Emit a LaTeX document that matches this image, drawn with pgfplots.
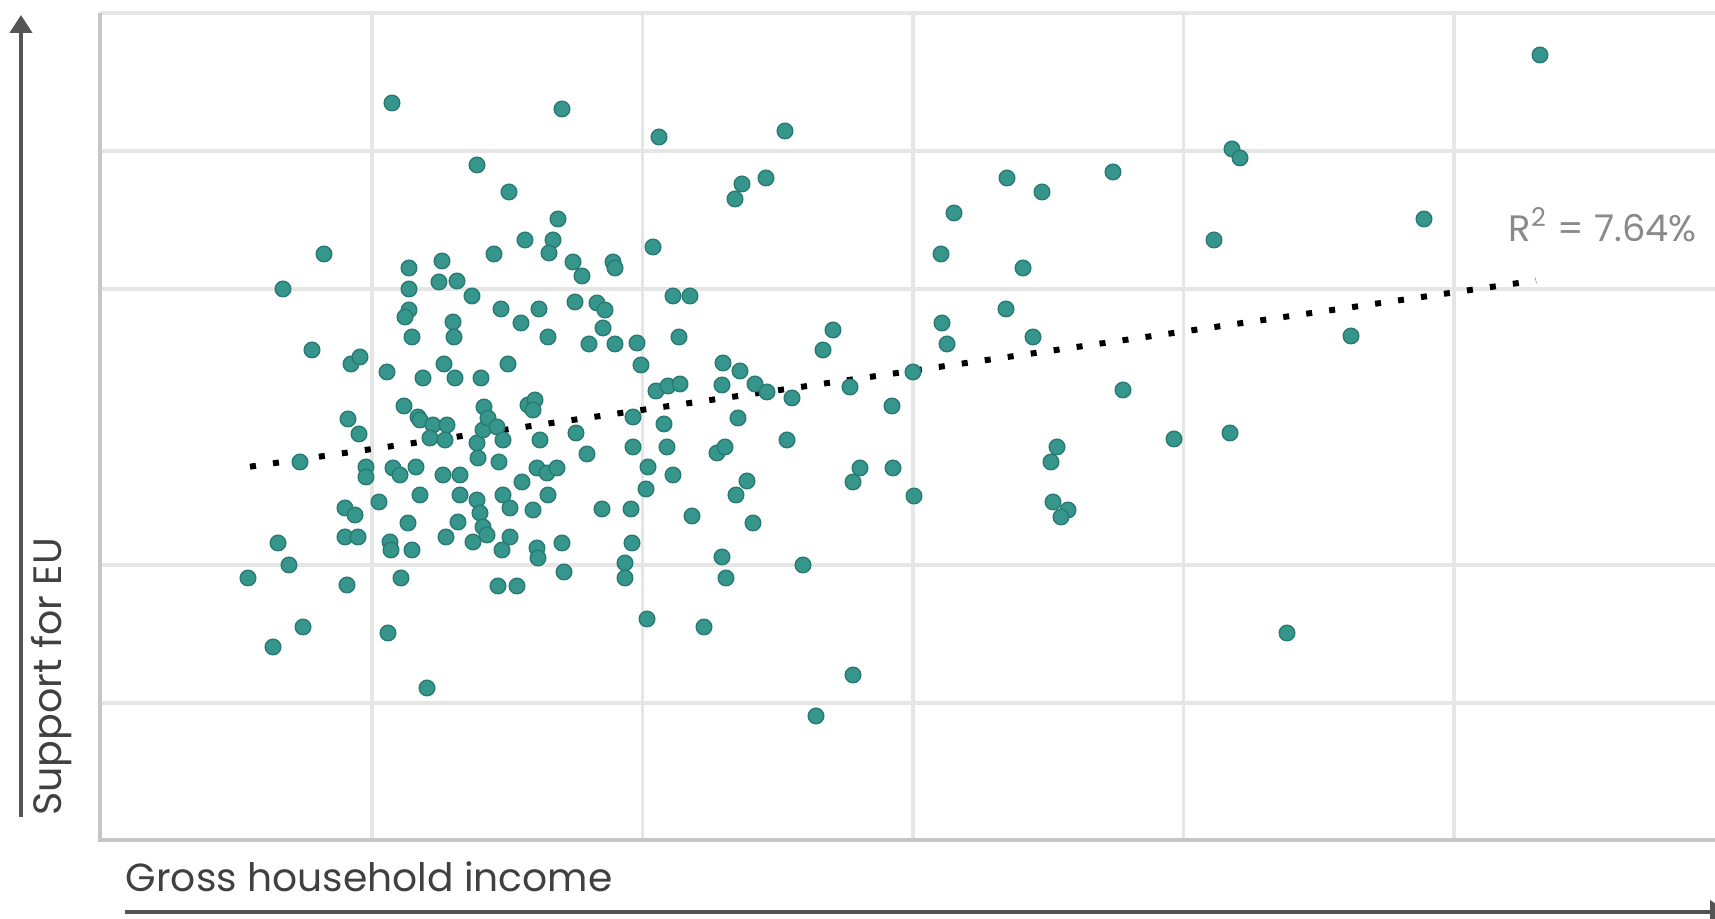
\documentclass[border=0pt]{standalone}
\usepackage{fontspec}
\setmainfont{Poppins}
\usepackage{pgfplots}
\usepackage{pgfplotstable}
\pgfplotsset{compat=1.18}
\usetikzlibrary{arrows.meta}

\definecolor{dotfill}{HTML}{36968C}
\definecolor{dotdraw}{HTML}{287A72}
\definecolor{gridgray}{HTML}{E6E6E6}
\definecolor{axisgray}{HTML}{C6C6C6}
\definecolor{arrowgray}{HTML}{555555}
\definecolor{textgray}{HTML}{404040}
\definecolor{rgray}{HTML}{8A8A8A}

% income vs support (pixel units)
\pgfplotstableread{
x y
392 737
477 675
509 648
525 600
324 586
494 586
283 551
409 572
442 579
409 551
439 558
457 559
472 544
409 530
405 523
453 518
454 503
412 503
501 531
521 517
312 490
351 476
360 483
387 468
423 462
444 476
455 462
481 462
508 476
404 434
484 433
348 421
418 423
528 435
359 406
300 378
366 373
366 363
393 372
400 365
416 373
379 338
420 345
408 317
345 332
355 325
345 303
358 303
390 298
391 290
412 290
278 297
289 275
248 262
347 255
401 262
303 213
273 193
388 207
427 152
498 254
517 254
420 420
433 415
447 415
430 402
445 400
443 365
460 365
477 397
478 382
483 410
488 422
497 413
503 400
499 378
522 358
460 345
477 340
480 327
483 313
487 305
473 298
458 318
446 303
503 345
510 332
510 303
502 290
533 330
562 731
659 703
785 709
766 662
742 656
735 641
558 621
553 600
549 587
653 593
573 578
582 564
613 578
615 572
673 544
690 544
539 531
575 538
597 537
605 530
548 503
603 512
589 496
615 496
637 497
641 475
679 503
823 490
723 477
740 469
722 455
755 456
767 448
792 442
656 449
668 454
680 456
535 440
533 430
633 423
664 416
738 422
787 400
540 400
576 407
587 386
633 393
667 393
717 387
725 393
537 372
547 367
557 372
548 345
648 373
673 365
646 351
602 331
631 331
692 324
747 359
736 345
753 317
537 292
538 282
562 297
564 268
632 297
625 277
625 262
722 283
726 262
803 275
647 221
704 213
816 124
1007 662
1042 648
1113 668
954 627
941 586
1023 572
1006 531
942 517
947 496
1033 503
833 510
850 453
913 468
892 434
860 372
853 358
893 372
914 344
1057 393
1051 378
1053 338
1068 330
1061 323
853 165
1123 450
1174 401
1214 600
1232 691
1240 682
1230 407
1287 207
1351 504
1424 621
1540 785
}\points

\begin{document}
\begin{tikzpicture}
\useasboundingbox (0pt,-19.75pt) rectangle (428.75pt,210pt);
\begin{axis}[
    at={(25pt,0pt)}, anchor=south west,
    scale only axis,
    width=403.75pt, height=206.75pt,
    xmin=100, xmax=1715,
    ymin=0, ymax=827,
    axis line style={draw=none},
    xtick={372,642.5,913,1183.5,1454},
    ytick={137,275,551,689,827},
    xticklabels={}, yticklabels={},
    tick style={draw=none},
    grid=major,
    major grid style={draw=gridgray, line width=0.8pt},
    clip=false,
]
\addplot[only marks, mark=*, mark size=1.95pt,
    mark options={fill=dotfill, draw=dotdraw, line width=0.35pt}]
    table[x=x, y=y] {\points};
% trend line
\addplot[black, line width=1.5pt, line cap=butt,
    dash pattern=on 1.5pt off 4.3pt]
    coordinates {(250,373.3) (1536,559.5)};
\draw[axisgray, line width=1.2pt]
    (axis cs:100,827) -- (axis cs:100,0) -- (axis cs:1715,0);
\end{axis}

\draw[arrowgray, line width=1pt, -{Triangle[width=5.5pt,length=4.5pt]}]
    (5.25pt,5.8pt) -- (5.25pt,206.25pt);
\draw[arrowgray, line width=1pt, -{Triangle[width=5.5pt,length=4.5pt]}]
    (31.25pt,-17.9pt) -- (432pt,-17.9pt);
\node[rotate=90, anchor=base west, inner sep=0pt, text=textgray,
    font=\fontsize{9.9pt}{11pt}\selectfont] at (15.5pt,5.8pt) {Support for EU};
\node[anchor=base west, inner sep=0pt, text=textgray,
    font=\fontsize{9.8pt}{11pt}\selectfont] at (31.25pt,-12.9pt) {Gross household income};
\node[anchor=base west, inner sep=0pt, text=rgray,
    font=\fontsize{9.2pt}{11pt}\selectfont] at (377pt,149.6pt) {R\textsuperscript{2} = 7.64\%};
\end{tikzpicture}
\end{document}
